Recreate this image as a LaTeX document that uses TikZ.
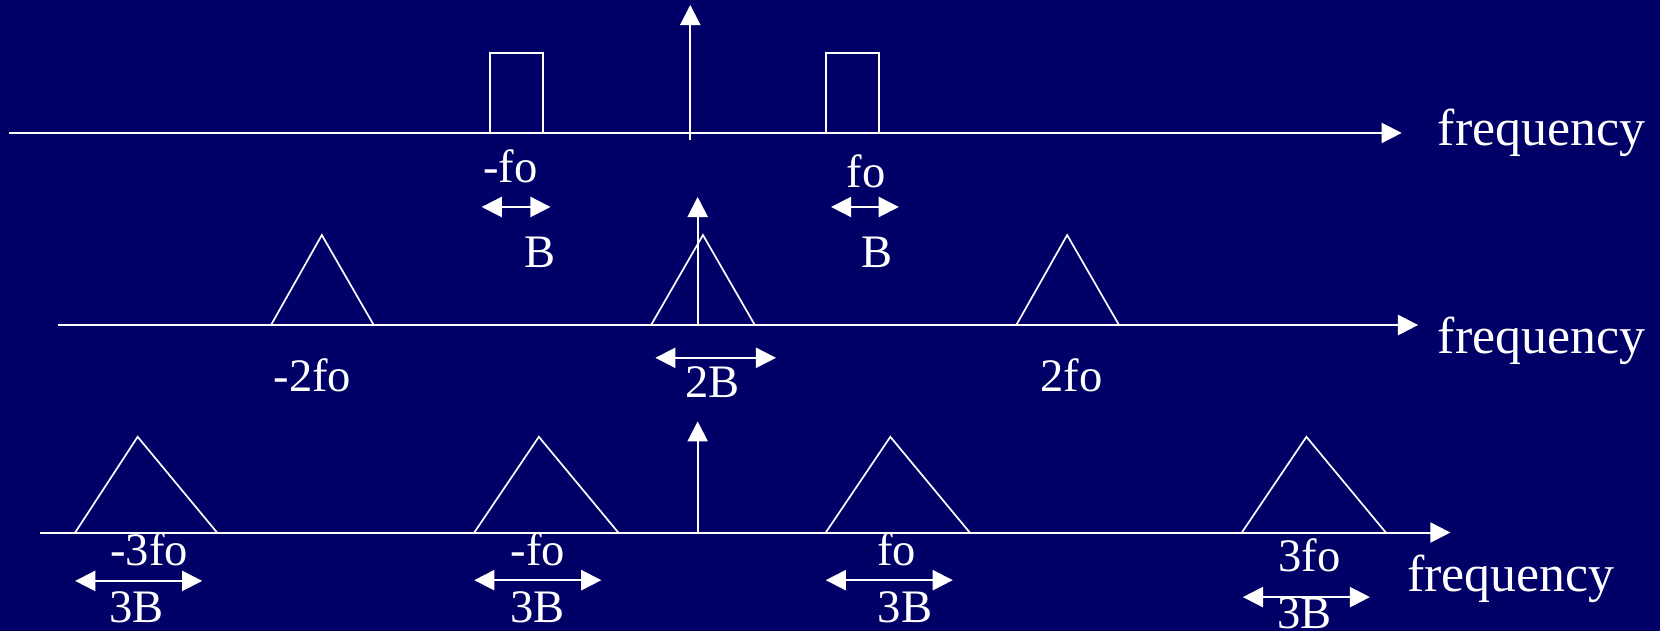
\documentclass[tikz,border=0pt]{standalone}
\usepackage{fontspec}
\setmainfont{Liberation Serif}
\usetikzlibrary{arrows.meta}
\definecolor{slide}{HTML}{000066}
\definecolor{chalk}{HTML}{FFFFFF}
\tikzset{
  >={Triangle[length=19pt,width=19pt]},
  every node/.style={text=chalk,inner sep=0pt},
  lbl/.style={font=\fontsize{44}{48}\selectfont,anchor=base},
  axislbl/.style={font=\fontsize{49}{54}\selectfont,anchor=base west},
  freqaxis/.style={->,draw=chalk,line width=1.9pt},
  spike/.style={->,draw=chalk,line width=1.9pt},
  band/.style={draw=chalk,line width=1.6pt},
  bwarrow/.style={<->,draw=chalk,line width=1.9pt},
}

\begin{document}
\begin{tikzpicture}[x=1pt,y=-1pt]
\useasboundingbox (0,0) rectangle (1568,596);
\fill[slide] (0,0) rectangle (1568,596);

% top row: band-pass signal
\coordinate (ax1s) at (8.5,125.6);
\coordinate (ax1e) at (1324,125.6);
\draw[freqaxis] (ax1s) -- (ax1e);
\node[axislbl] (freq1) at (1358,137) {frequency};
\coordinate (dc1) at (652,132);
\coordinate (dc1t) at (652,4.7);
\draw[spike] (dc1) -- (dc1t);
\draw[band] (463,125.6) rectangle (513,50);
\draw[band] (780,125.6) rectangle (830,50);
\node[lbl] (mfo1) at (482,172) {-fo};
\node[lbl] (fo1) at (818,177) {fo};
\coordinate (bwl1) at (455,195.5);
\coordinate (bwr1) at (520,195.5);
\coordinate (bwl2) at (785,195.5);
\coordinate (bwr2) at (849,195.5);
\draw[bwarrow] (bwl1) -- (bwr1);
\draw[bwarrow] (bwl2) -- (bwr2);
\node[lbl] (b1) at (510,253) {B};
\node[lbl] (b2) at (828,253) {B};

% middle row: sampled at 2fo
\coordinate (ax2s) at (55,307);
\coordinate (ax2e) at (1339.5,307);
\draw[freqaxis] (ax2s) -- (ax2e);
\node[axislbl] (freq2) at (1358,333.5) {frequency};
\coordinate (dc2) at (659,307);
\coordinate (dc2t) at (659,186);
\draw[spike] (dc2) -- (dc2t);
\draw[band] (256,307) -- (304,222) -- (353,307);
\draw[band] (615,307) -- (664,222) -- (713,307);
\draw[band] (960,307) -- (1008,222) -- (1057,307);
\node[lbl] (m2fo) at (295,370) {-2fo};
\node[lbl] (p2fo) at (1012,370) {2fo};
\coordinate (bwl3) at (619,338);
\coordinate (bwr3) at (733,338);
\draw[bwarrow] (bwl3) -- (bwr3);
\node[lbl] (b2b) at (673,375) {2B};

% bottom row: sampled at fo
\coordinate (ax3s) at (38,503);
\coordinate (ax3e) at (1370,503);
\draw[freqaxis] (ax3s) -- (ax3e);
\node[axislbl] (freq3) at (1329,559) {frequency};
\coordinate (dc3) at (659,503);
\coordinate (dc3t) at (659,398);
\draw[spike] (dc3) -- (dc3t);
\draw[band] (71,503) -- (130,412.6) -- (205,503);
\draw[band] (448,503) -- (509,412.6) -- (584,503);
\draw[band] (780,503) -- (841,412.6) -- (916,503);
\draw[band] (1173,503) -- (1234,412.6) -- (1309,503);
\node[lbl] (m3fo) at (141,534) {-3fo};
\node[lbl] (mfo3) at (508,534) {-fo};
\node[lbl] (fo3) at (847,534) {fo};
\node[lbl] (p3fo) at (1237,540) {3fo};
\coordinate (bwl4) at (71,548.7);
\coordinate (bwr4) at (191,548.7);
\coordinate (bwl5) at (448,548);
\coordinate (bwr5) at (568,548);
\coordinate (bwl6) at (780,548);
\coordinate (bwr6) at (900,548);
\coordinate (bwl7) at (1174,564);
\coordinate (bwr7) at (1294,564);
\draw[bwarrow] (bwl4) -- (bwr4);
\draw[bwarrow] (bwl5) -- (bwr5);
\draw[bwarrow] (bwl6) -- (bwr6);
\draw[bwarrow] (bwl7) -- (bwr7);
\node[lbl] (b3a) at (129,588) {3B};
\node[lbl] (b3b) at (508,588) {3B};
\node[lbl] (b3c) at (855,588) {3B};
\node[lbl] (b3d) at (1232,594) {3B};

\end{tikzpicture}
\end{document}
